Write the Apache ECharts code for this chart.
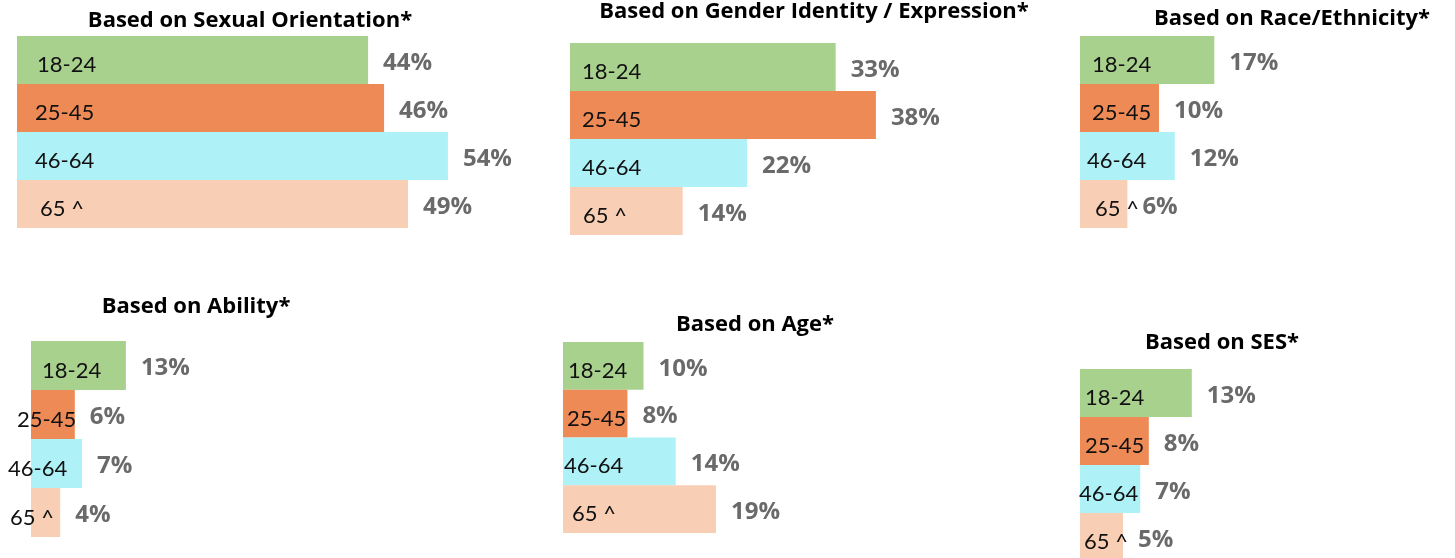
<!DOCTYPE html>
<html>
<head>
<meta charset="utf-8">
<script src="https://cdn.jsdelivr.net/npm/echarts@6/dist/echarts.min.js"></script>
<style>
  html, body { margin: 0; padding: 0; background: #fff; }
  #chart { width: 1455px; height: 558px; }
</style>
</head>
<body>
<div id="chart"></div>
<script>
// Age groups shared by every panel
const ageGroups = ['18-24', '25-45', '46-64', '65 ^'];

// Percent reporting discrimination, by age group
const sexualOrientation = [44, 46, 54, 49];
const genderIdentity = [33, 38, 22, 14];
const raceEthnicity = [17, 10, 12, 6];
const ability = [13, 6, 7, 4];
const age = [10, 8, 14, 19];
const ses = [13, 8, 7, 5];

const panelTitles = [
  'Based on Sexual Orientation*',
  'Based on Gender Identity / Expression*',
  'Based on Race/Ethnicity*',
  'Based on Ability*',
  'Based on Age*',
  'Based on SES*'
];
const panelValues = [sexualOrientation, genderIdentity, raceEthnicity, ability, age, ses];

const barColors = ['#a9d18e', '#ee8a56', '#aef1f6', '#f8cfb4'];
const NAME_FONT = 'Lato, "Open Sans", sans-serif';
const BOLD_FONT = '"Open Sans", Lato, sans-serif';

// Panel geometry: grid box, pixels per percent, title anchor, in-bar label shifts
const layout = [
  { left: 17,   top: 36,  width: 500, height: 192, pxPer: 7.98, titleX: 250,  titleY: 21,  nameShift: [20, 18, 18, 23] },
  { left: 570,  top: 43,  width: 450, height: 192, pxPer: 8.05, titleX: 814,  titleY: 12,  nameShift: [12, 12, 12, 13] },
  { left: 1080, top: 36,  width: 360, height: 192, pxPer: 7.9,  titleX: 1292, titleY: 19,  nameShift: [12, 12, 7, 15] },
  { left: 31,   top: 341, width: 400, height: 196, pxPer: 7.3,  titleX: 196,  titleY: 307, nameShift: [11, -14, -23, -21] },
  { left: 563,  top: 342, width: 450, height: 191, pxPer: 8.05, titleX: 755,  titleY: 325, nameShift: [5, 4, 1, 9] },
  { left: 1080, top: 369, width: 360, height: 192, pxPer: 8.6,  titleX: 1222, titleY: 343, nameShift: [5, 5, -1, 4] }
];

const grids = [], xAxes = [], yAxes = [], series = [], titles = [];

layout.forEach((p, i) => {
  grids.push({ left: p.left, top: p.top, width: p.width, height: p.height, containLabel: false, outerBoundsMode: 'none' });
  xAxes.push({ type: 'value', gridIndex: i, min: 0, max: p.width / p.pxPer, show: false });
  yAxes.push({ type: 'category', gridIndex: i, data: ageGroups, inverse: true, show: false });
  titles.push({
    text: panelTitles[i], left: p.titleX, top: p.titleY, padding: 0,
    textAlign: 'center', textVerticalAlign: 'middle',
    textStyle: { fontFamily: BOLD_FONT, fontSize: 22, fontWeight: 'bold', color: '#000' }
  });

  // Coloured bars carrying the age-group name inside
  series.push({
    type: 'bar', xAxisIndex: i, yAxisIndex: i,
    barCategoryGap: 0, barGap: '-100%', silent: true, animation: false,
    data: panelValues[i].map((v, k) => ({
      value: v,
      itemStyle: { color: barColors[k] },
      label: { offset: [p.nameShift[k], 5] }
    })),
    label: {
      show: true, position: 'insideLeft', distance: 0,
      formatter: (d) => ageGroups[d.dataIndex],
      fontFamily: NAME_FONT, fontSize: 22, color: '#111'
    }
  });

  // Transparent overlay carrying the percent label to the right of each bar
  series.push({
    type: 'bar', xAxisIndex: i, yAxisIndex: i,
    barCategoryGap: 0, barGap: '-100%', silent: true, animation: false,
    itemStyle: { color: 'rgba(0,0,0,0)' },
    data: panelValues[i],
    label: {
      show: true, position: 'right', distance: 15, offset: [0, 3],
      formatter: '{c}%',
      fontFamily: BOLD_FONT, fontSize: 24, fontWeight: 'bold', color: '#6a6a6a'
    }
  });
});

const chart = echarts.init(document.getElementById('chart'), null, { renderer: 'canvas' });
chart.setOption({
  backgroundColor: '#fff',
  animation: false,
  title: titles,
  grid: grids,
  xAxis: xAxes,
  yAxis: yAxes,
  series: series
});
</script>
</body>
</html>
